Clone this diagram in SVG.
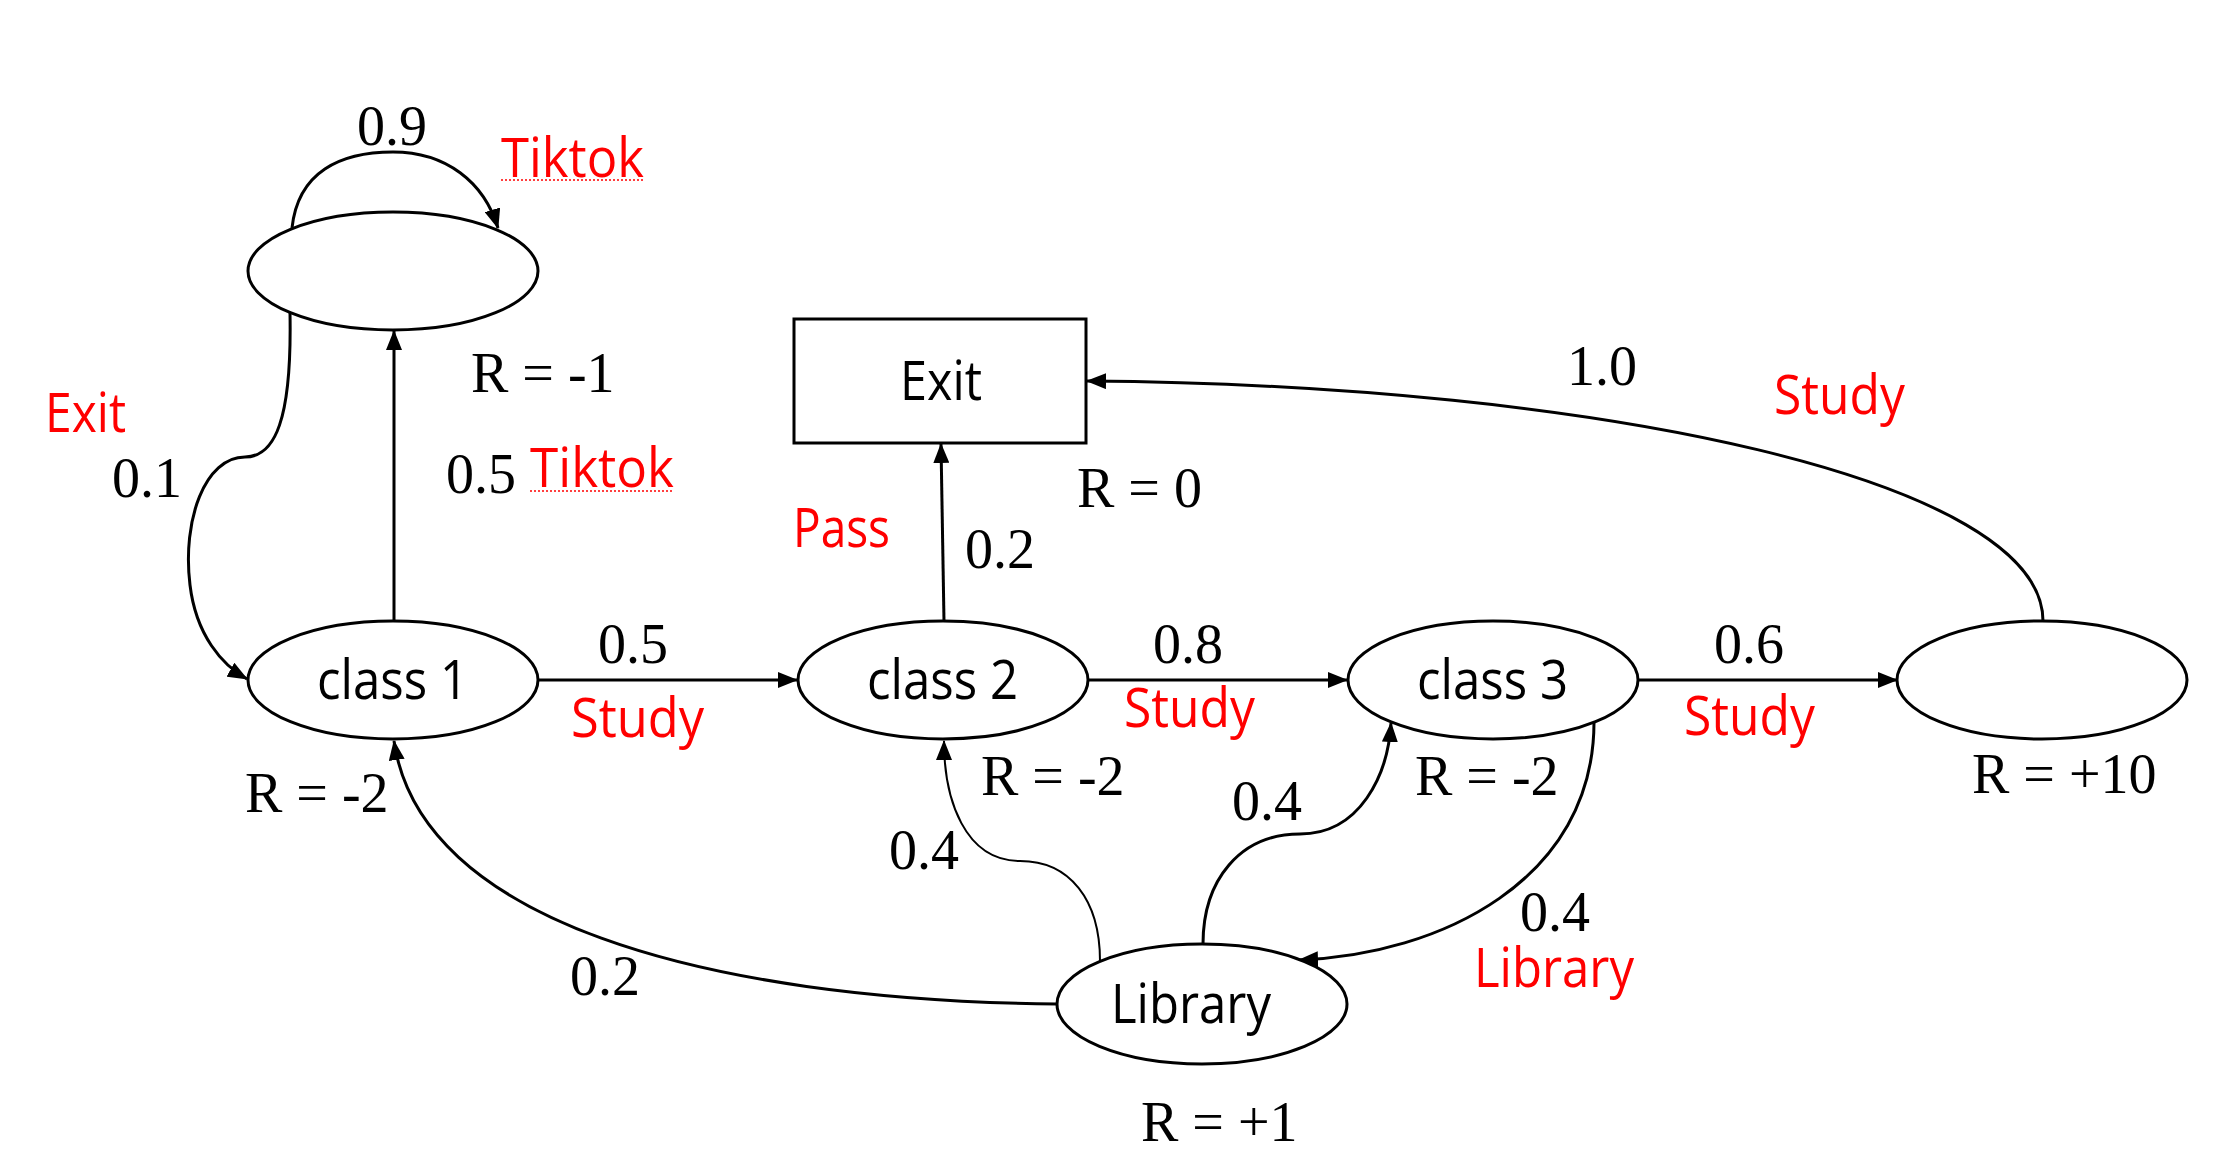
<svg xmlns="http://www.w3.org/2000/svg" width="2236" height="1167" viewBox="0 0 2236 1167">
<style>
.node{fill:#fff;stroke:#000;stroke-width:3}
.edge{fill:none;stroke:#000;stroke-width:3}
.thin{stroke-width:2}
.num{font-family:"Liberation Serif","Times New Roman",serif;font-size:56px;fill:#000}
.lbl{font-family:"Open Sans","Noto Sans",sans-serif;font-size:54px;fill:#000}
.act{font-family:"Open Sans","Noto Sans",sans-serif;font-size:54px;fill:#ff0000}
.squig{fill:none;stroke:#ff0000;stroke-width:1.5;stroke-dasharray:2 2}
</style>
<defs>
<marker id="arr" markerUnits="userSpaceOnUse" markerWidth="20" markerHeight="16" refX="19" refY="8" orient="auto">
<path d="M0,0 L20,8 L0,16 z" fill="#000"/>
</marker>
</defs>
<rect width="2236" height="1167" fill="#fff"/>

<g id="connectors">
<path class="edge" d="M292,228 C298,172 340,152 393,152 C446,152 484,182 498,228" marker-end="url(#arr)"/>
<path class="edge" d="M290,313 C292,420 275,457 245,457 C205,457 182,520 190,585 C196,635 222,665 247,679" marker-end="url(#arr)"/>
<path class="edge" d="M394,621 L394,331" marker-end="url(#arr)"/>
<path class="edge" d="M538,680 L797,680" marker-end="url(#arr)"/>
<path class="edge" d="M944,621 L941,444" marker-end="url(#arr)"/>
<path class="edge" d="M1088,680 L1347,680" marker-end="url(#arr)"/>
<path class="edge" d="M1638,680 L1897,680" marker-end="url(#arr)"/>
<path class="edge" d="M2043,621 C2043,480 1600,385 1087,381" marker-end="url(#arr)"/>
<path class="edge" d="M1594,722 C1594,880 1440,955 1299,960" marker-end="url(#arr)"/>
<path class="edge" d="M1203,944 C1203,880 1240,834 1300,834 C1360,834 1388,775 1391,723" marker-end="url(#arr)"/>
<path class="edge thin" d="M1100,961 C1100,900 1070,861 1020,861 C965,861 944,800 944,741" marker-end="url(#arr)"/>
<path class="edge" d="M1057,1004 C700,1000 420,920 394,741" marker-end="url(#arr)"/>
</g>

<g id="tiktok-state">
<ellipse class="node" cx="393" cy="271" rx="145" ry="59"/>
</g>
<g id="class1">
<ellipse class="node" cx="393" cy="680" rx="145" ry="59"/>
<text class="lbl" x="317" y="699" textLength="151" lengthAdjust="spacingAndGlyphs">class 1</text>
</g>
<g id="class2">
<ellipse class="node" cx="943" cy="680" rx="145" ry="59"/>
<text class="lbl" x="867" y="699" textLength="151" lengthAdjust="spacingAndGlyphs">class 2</text>
</g>
<g id="class3">
<ellipse class="node" cx="1493" cy="680" rx="145" ry="59"/>
<text class="lbl" x="1417" y="699" textLength="151" lengthAdjust="spacingAndGlyphs">class 3</text>
</g>
<g id="pass-state">
<ellipse class="node" cx="2042" cy="680" rx="145" ry="59"/>
</g>
<g id="library">
<ellipse class="node" cx="1202" cy="1004" rx="145" ry="60"/>
<text class="lbl" x="1111" y="1023" textLength="160" lengthAdjust="spacingAndGlyphs">Library</text>
</g>
<g id="exit">
<rect class="node" x="794" y="319" width="292" height="124"/>
<text class="lbl" x="900" y="400" textLength="82" lengthAdjust="spacingAndGlyphs">Exit</text>
</g>

<g id="labels">
<text class="num" x="357" y="145">0.9</text>
<text class="act" x="501" y="177" textLength="143" lengthAdjust="spacingAndGlyphs">Tiktok</text>
<path class="squig" d="M501,180 L644,180"/>
<text class="num" x="471" y="392">R = -1</text>
<text class="act" x="45" y="432" textLength="81" lengthAdjust="spacingAndGlyphs">Exit</text>
<text class="num" x="112" y="497">0.1</text>
<text class="num" x="446" y="493">0.5</text>
<text class="act" x="530" y="487" textLength="144" lengthAdjust="spacingAndGlyphs">Tiktok</text>
<path class="squig" d="M530,491 L674,491"/>
<text class="num" x="1077" y="507">R = 0</text>
<text class="act" x="793" y="547" textLength="97" lengthAdjust="spacingAndGlyphs">Pass</text>
<text class="num" x="965" y="568">0.2</text>
<text class="num" x="1567" y="385">1.0</text>
<text class="act" x="1774" y="414" textLength="131" lengthAdjust="spacingAndGlyphs">Study</text>
<text class="num" x="598" y="663">0.5</text>
<text class="act" x="571" y="737" textLength="133" lengthAdjust="spacingAndGlyphs">Study</text>
<text class="num" x="1153" y="663">0.8</text>
<text class="act" x="1124" y="727" textLength="131" lengthAdjust="spacingAndGlyphs">Study</text>
<text class="num" x="1714" y="663">0.6</text>
<text class="act" x="1684" y="735" textLength="131" lengthAdjust="spacingAndGlyphs">Study</text>
<text class="num" x="245" y="812">R = -2</text>
<text class="num" x="981" y="795">R = -2</text>
<text class="num" x="1415" y="795">R = -2</text>
<text class="num" x="1972" y="793">R = +10</text>
<text class="num" x="889" y="869">0.4</text>
<text class="num" x="1232" y="820">0.4</text>
<text class="num" x="1520" y="931">0.4</text>
<text class="act" x="1474" y="987" textLength="160" lengthAdjust="spacingAndGlyphs">Library</text>
<text class="num" x="570" y="995">0.2</text>
<text class="num" x="1141" y="1141">R = +1</text>
</g>
</svg>
